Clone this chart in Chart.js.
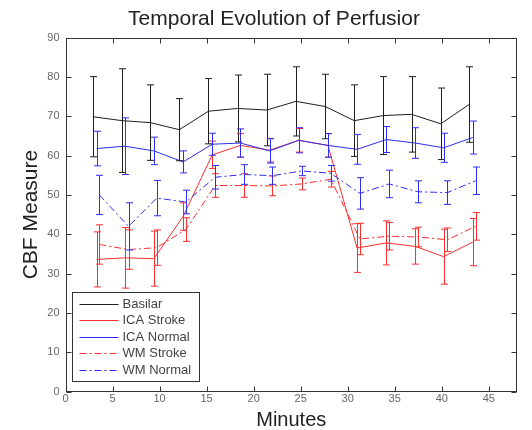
<!DOCTYPE html>
<html><head><meta charset="utf-8">
<script src="https://cdn.jsdelivr.net/npm/chart.js@4.4.0/dist/chart.umd.min.js"></script>
<style>html,body{margin:0;padding:0;background:#fff;}#wrap{width:532px;height:430px;}</style>
</head><body><div id="wrap"><canvas id="c" width="532" height="430"></canvas></div>
<script>
// ---- data ----
const seriesLabels = ['Basilar', 'ICA Stroke', 'ICA Normal', 'WM Stroke', 'WM Normal'];
const xTickValues = [0, 5, 10, 15, 20, 25, 30, 35, 40, 45];
const yTickValues = [0, 10, 20, 30, 40, 50, 60, 70, 80, 90];

const minutesBasilar = [2.9, 6.0, 9.0, 12.1, 15.2, 18.3, 21.4, 24.5, 27.6, 30.7, 33.8, 36.8, 39.9, 42.9];
const minutesICA     = [3.3, 6.3, 9.4, 12.5, 15.6, 18.6, 21.7, 24.8, 27.9, 31.0, 34.1, 37.2, 40.2, 43.3];
const minutesWM      = [3.6, 6.7, 9.7, 12.8, 15.9, 19.0, 22.0, 25.1, 28.2, 31.3, 34.4, 37.5, 40.6, 43.6];

const basilarMean   = [69.9, 68.9, 68.4, 66.6, 71.3, 72.0, 71.6, 73.8, 72.5, 68.9, 70.2, 70.5, 68.1, 73.0];
const basilarErr    = [10.2, 13.2, 9.6, 7.9, 8.3, 8.5, 9.1, 8.8, 8.2, 9.1, 9.9, 9.6, 9.1, 9.6];
const icaStrokeMean = [33.6, 34.0, 33.8, 44.5, 60.2, 62.6, 61.4, 63.9, 62.6, 36.5, 37.8, 36.9, 34.3, 38.0];
const icaStrokeErr  = [7.0, 7.7, 7.0, 3.5, 3.5, 3.0, 3.0, 3.0, 3.0, 6.2, 5.6, 4.5, 7.0, 6.0];
const icaNormalMean = [61.8, 62.4, 61.2, 58.4, 62.9, 63.2, 61.2, 63.9, 62.6, 61.6, 64.1, 63.2, 62.0, 64.6];
const icaNormalErr  = [4.4, 7.2, 3.5, 2.8, 2.8, 3.6, 3.1, 3.2, 3.0, 3.8, 3.3, 3.9, 3.7, 4.2];
const wmStrokeMean  = [37.4, 36.1, 36.6, 41.2, 52.4, 52.4, 52.3, 52.8, 54.0, 38.8, 39.5, 39.3, 38.6, 42.0];
const wmStrokeErr   = [5.0, 5.0, 4.5, 3.0, 3.0, 3.0, 2.5, 1.5, 2.0, 4.0, 3.5, 2.5, 3.0, 3.5];
const wmNormalMean  = [50.0, 42.0, 49.2, 48.2, 54.5, 55.2, 54.9, 56.1, 55.5, 50.4, 52.8, 50.8, 50.6, 53.6];
const wmNormalErr   = [5.0, 6.0, 4.5, 3.0, 3.0, 2.5, 2.2, 1.2, 2.0, 4.0, 3.5, 2.8, 3.0, 3.5];

// ---- styles ----
const BLACK = 'rgb(30,30,30)', RED = 'rgb(255,45,45)', BLUE = 'rgb(45,45,245)';
const DASHDOT = [7, 3, 2, 3];
const FONT = "'Liberation Sans', Arial, Helvetica, sans-serif";

function pts(xs, ys) { return xs.map((x, i) => ({ x: x, y: ys[i] })); }
function ds(label, xs, ys, errs, color, dash, order) {
  return { label, data: pts(xs, ys), errors: errs, borderColor: color, backgroundColor: color,
    borderWidth: 1, borderDash: dash, showLine: true, pointRadius: 0, pointHoverRadius: 0,
    tension: 0, fill: false, order };
}
const datasets = [
  ds(seriesLabels[0], minutesBasilar, basilarMean, basilarErr, BLACK, [], 5),
  ds(seriesLabels[1], minutesICA, icaStrokeMean, icaStrokeErr, RED, [], 4),
  ds(seriesLabels[2], minutesICA, icaNormalMean, icaNormalErr, BLUE, [], 3),
  ds(seriesLabels[3], minutesWM, wmStrokeMean, wmStrokeErr, RED, DASHDOT, 2),
  ds(seriesLabels[4], minutesWM, wmNormalMean, wmNormalErr, BLUE, DASHDOT, 1)
];

const matlabPlugin = {
  id: 'matlab',
  afterLayout(chart) {
    const t = chart.titleBlock;
    if (t) { t.left = 31; t.right = 517; }
  },
  afterDatasetsDraw(chart) {
    const ctx = chart.ctx, xs = chart.scales.x, ys = chart.scales.y, a = chart.chartArea;
    ctx.save();
    ctx.beginPath(); ctx.rect(a.left, a.top, a.right - a.left, a.bottom - a.top); ctx.clip();
    chart.data.datasets.forEach(d => {
      ctx.strokeStyle = d.borderColor; ctx.lineWidth = 1; ctx.setLineDash([]);
      d.data.forEach((p, j) => {
        const e = d.errors[j];
        const x = Math.round(xs.getPixelForValue(p.x)) + 0.5;
        const yt = ys.getPixelForValue(p.y + e), yb = ys.getPixelForValue(p.y - e);
        ctx.beginPath();
        ctx.moveTo(x, yt); ctx.lineTo(x, yb);
        ctx.moveTo(x - 3.5, yt); ctx.lineTo(x + 3.5, yt);
        ctx.moveTo(x - 3.5, yb); ctx.lineTo(x + 3.5, yb);
        ctx.stroke();
      });
    });
    ctx.restore();
  },
  afterDraw(chart) {
    const ctx = chart.ctx, xs = chart.scales.x, ys = chart.scales.y, a = chart.chartArea;
    ctx.save();
    ctx.strokeStyle = '#333'; ctx.lineWidth = 1; ctx.setLineDash([]);
    const L = Math.round(a.left) + 0.5, R = Math.round(a.right) - 0.5, T = Math.round(a.top) + 0.5, B = Math.round(a.bottom) - 0.5;
    ctx.strokeRect(L, T, R - L, B - T);
    ctx.beginPath();
    xTickValues.forEach(v => {
      const x = Math.round(xs.getPixelForValue(v)) + 0.5;
      ctx.moveTo(x, B); ctx.lineTo(x, B - 5);
      ctx.moveTo(x, T); ctx.lineTo(x, T + 5);
    });
    yTickValues.forEach(v => {
      const y = Math.round(ys.getPixelForValue(v)) + 0.5;
      ctx.moveTo(L, y); ctx.lineTo(L + 5, y);
      ctx.moveTo(R, y); ctx.lineTo(R - 5, y);
    });
    ctx.stroke();

    // legend box
    const bx = L + 6, by = 292.5, bw = 127, bh = 89;
    ctx.fillStyle = '#fff';
    ctx.fillRect(bx, by, bw, bh);
    ctx.strokeStyle = '#333';
    ctx.strokeRect(bx, by, bw, bh);
    ctx.font = '13px ' + FONT;
    ctx.textBaseline = 'middle'; ctx.textAlign = 'left';
    chart.data.datasets.forEach((d, i) => {
      const y = Math.round(by + 11 + i * 16.5) + 0.5;
      ctx.strokeStyle = d.borderColor; ctx.lineWidth = 1; ctx.setLineDash(d.borderDash || []);
      ctx.beginPath(); ctx.moveTo(bx + 7, y); ctx.lineTo(bx + 46, y); ctx.stroke();
      ctx.setLineDash([]);
      ctx.fillStyle = '#444';
      ctx.fillText(d.label, bx + 50, y);
    });
    ctx.restore();
  }
};

new Chart(document.getElementById('c'), {
  type: 'scatter',
  data: { datasets },
  options: {
    responsive: false, animation: false,
    layout: { padding: { top: 0, right: 15, bottom: 0, left: 0 } },
    plugins: {
      legend: { display: false },
      tooltip: { enabled: false },
      title: { display: true, text: 'Temporal Evolution of Perfusior', color: '#222',
        font: { family: FONT, size: 21, lineHeight: 1.2, weight: 'normal' }, padding: { top: 6.5, bottom: 6.0 } }
    },
    scales: {
      x: {
        type: 'linear', min: 0, max: 48,
        afterBuildTicks: s => { s.ticks = xTickValues.map(v => ({ value: v })); },
        afterFit: s => { s.height = 38.5; },
        grid: { display: false, drawTicks: false }, border: { display: false },
        ticks: { stepSize: 5, padding: 1, color: '#666', font: { family: FONT, size: 11 }, maxRotation: 0, autoSkip: false },
        title: { display: true, text: 'Minutes', color: '#222', font: { family: FONT, size: 20, lineHeight: 1 }, padding: { top: 0, bottom: 0 } }
      },
      y: {
        type: 'linear', min: 0, max: 90,
        afterBuildTicks: s => { s.ticks = yTickValues.map(v => ({ value: v })); },
        afterFit: s => { s.width = 65.5; },
        grid: { display: false, drawTicks: false }, border: { display: false },
        ticks: { stepSize: 10, padding: 6, color: '#666', font: { family: FONT, size: 11 }, autoSkip: false },
        title: { display: true, text: 'CBF Measure', color: '#222', font: { family: FONT, size: 21, lineHeight: 1 }, padding: { top: 20.5, bottom: 0 } }
      }
    }
  },
  plugins: [matlabPlugin]
});
</script>
</body></html>
